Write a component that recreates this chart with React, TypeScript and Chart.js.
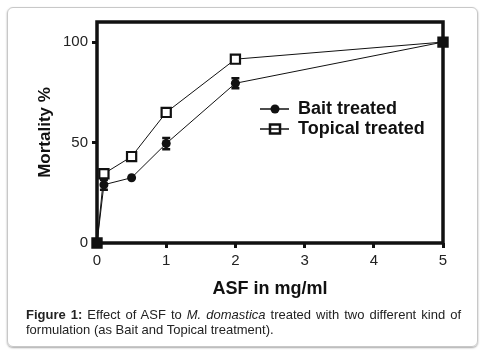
import React, { useEffect, useRef } from "react";
import { Chart, registerables } from "chart.js";

Chart.register(...registerables);

const doses = [0, 0.1, 0.5, 1, 2, 5];
const baitValues = [0, 29, 32.5, 49.5, 79.5, 100];
const baitErrors = [0, 2.5, 0, 2.8, 2.5, 0];
const topicalValues = [0, 34.5, 43, 65, 91.5, 100];
const topicalErrors = [0, 0, 0, 0, 0, 0];
const xTicks = [0, 1, 2, 3, 4, 5];
const yTicks = [0, 50, 100];
const seriesNames = ["Bait treated", "Topical treated"];

const FONT = "'Liberation Sans', Arial, sans-serif";
const INK = "#111";

const framePlugin = {
  id: "frame",
  beforeDatasetsDraw(chart: any) {
    const { ctx, chartArea: a } = chart;
    ctx.save();
    ctx.strokeStyle = INK;
    ctx.lineWidth = 3.5;
    ctx.strokeRect(a.left, a.top, a.right - a.left, a.bottom - a.top);
    ctx.restore();
  },
};

const errorPlugin = {
  id: "errbars",
  afterDatasetsDraw(chart: any) {
    const { ctx, scales } = chart;
    const x = scales.x;
    const y = scales.y;
    const sets = [
      { v: baitValues, e: baitErrors },
      { v: topicalValues, e: topicalErrors },
    ];
    ctx.save();
    ctx.strokeStyle = INK;
    ctx.lineWidth = 2.5;
    sets.forEach((s) => {
      doses.forEach((d, i) => {
        const err = s.e[i];
        if (!err) return;
        const px = x.getPixelForValue(d);
        const y1 = y.getPixelForValue(s.v[i] - err);
        const y2 = y.getPixelForValue(s.v[i] + err);
        ctx.beginPath();
        ctx.moveTo(px, y1);
        ctx.lineTo(px, y2);
        ctx.moveTo(px - 4, y1);
        ctx.lineTo(px + 4, y1);
        ctx.moveTo(px - 4, y2);
        ctx.lineTo(px + 4, y2);
        ctx.stroke();
      });
    });
    ctx.restore();
  },
};

const legendPlugin = {
  id: "customLegend",
  afterDraw(chart: any) {
    const { ctx } = chart;
    const rows = [
      { name: seriesNames[0], y: 109, style: "circle" },
      { name: seriesNames[1], y: 129, style: "rect" },
    ];
    ctx.save();
    rows.forEach((r) => {
      ctx.strokeStyle = INK;
      ctx.lineWidth = 1.5;
      ctx.beginPath();
      ctx.moveTo(260, r.y);
      ctx.lineTo(289, r.y);
      ctx.stroke();
      if (r.style === "circle") {
        ctx.fillStyle = INK;
        ctx.beginPath();
        ctx.arc(275, r.y, 4.5, 0, Math.PI * 2);
        ctx.fill();
      } else {
        ctx.fillStyle = "#fff";
        ctx.lineWidth = 2.5;
        ctx.fillRect(270, r.y - 4.5, 10, 9);
        ctx.strokeRect(270, r.y - 4.5, 10, 9);
        ctx.lineWidth = 1.5;
        ctx.beginPath();
        ctx.moveTo(270, r.y);
        ctx.lineTo(280, r.y);
        ctx.stroke();
      }
      ctx.fillStyle = INK;
      ctx.font = `bold 18px ${FONT}`;
      ctx.textBaseline = "middle";
      ctx.textAlign = "left";
      ctx.fillText(r.name, 298, r.y);
    });
    ctx.restore();
  },
};

export default function App() {
  const ref = useRef<HTMLCanvasElement | null>(null);

  useEffect(() => {
    if (!ref.current) return;
    const topicalFill = topicalValues.map((_, i) =>
      i === 0 || i === topicalValues.length - 1 ? INK : "#fff"
    );
    const chart = new Chart(ref.current, {
      type: "line",
      data: {
        datasets: [
          {
            label: seriesNames[0],
            data: doses.map((d, i) => ({ x: d, y: baitValues[i] })),
            borderColor: INK,
            borderWidth: 1,
            pointStyle: "circle",
            pointRadius: 4.5,
            pointBackgroundColor: INK,
            pointBorderColor: INK,
            pointBorderWidth: 0,
            clip: false as any,
          },
          {
            label: seriesNames[1],
            data: doses.map((d, i) => ({ x: d, y: topicalValues[i] })),
            borderColor: INK,
            borderWidth: 1,
            pointStyle: "rect",
            pointRadius: 6.5,
            pointBackgroundColor: topicalFill,
            pointBorderColor: INK,
            pointBorderWidth: 2.2,
            clip: false as any,
          },
        ],
      },
      options: {
        animation: false,
        responsive: false,
        devicePixelRatio: 1,
        layout: { padding: { top: 22, right: 46, left: 0, bottom: 0 } },
        plugins: {
          legend: { display: false },
          tooltip: { enabled: false },
        },
        scales: {
          x: {
            type: "linear",
            min: 0,
            max: 5,
            afterFit: (s: any) => {
              s.height = 67;
            },
            afterBuildTicks: (s: any) => {
              s.ticks = xTicks.map((v) => ({ value: v }));
            },
            border: { display: false },
            grid: {
              display: true,
              drawOnChartArea: false,
              drawTicks: true,
              tickLength: 5,
              tickWidth: 3,
              tickColor: INK,
            },
            ticks: {
              color: "#222",
              font: { family: FONT, size: 15 },
              padding: 4,
              maxRotation: 0,
            },
            title: {
              display: true,
              text: "ASF in mg/ml",
              color: INK,
              font: { family: FONT, size: 18, weight: "bold" },
              padding: { top: 0, bottom: 10 },
            },
          },
          y: {
            type: "linear",
            min: 0,
            max: 110,
            afterFit: (s: any) => {
              s.width = 97;
            },
            afterBuildTicks: (s: any) => {
              s.ticks = yTicks.map((v) => ({ value: v }));
            },
            border: { display: false },
            grid: {
              display: true,
              drawOnChartArea: false,
              drawTicks: true,
              tickLength: 5,
              tickWidth: 3,
              tickColor: INK,
            },
            ticks: {
              color: "#222",
              font: { family: FONT, size: 15 },
              padding: 4,
            },
            title: {
              display: true,
              text: "Mortality %",
              color: INK,
              font: { family: FONT, size: 17, weight: "bold" },
              padding: { top: 35, bottom: 0 },
            },
          },
        },
      },
      plugins: [framePlugin, errorPlugin, legendPlugin],
    });
    return () => chart.destroy();
  }, []);

  return (
    <div style={{ position: "absolute", left: 0, top: 0, width: 489, height: 364, background: "#fff" }}>
      <div
        style={{
          position: "absolute",
          left: 7,
          top: 7,
          width: 471,
          height: 340,
          boxSizing: "border-box",
          border: "1px solid #c8c8c8",
          borderRadius: 6,
          boxShadow: "0 1px 2px rgba(0,0,0,0.35)",
        }}
      />
      <canvas
        ref={ref}
        width={489}
        height={310}
        style={{ position: "absolute", left: 0, top: 0, width: 489, height: 310 }}
      />
      <div
        style={{
          position: "absolute",
          left: 26,
          top: 307,
          width: 435,
          fontFamily: FONT,
          fontSize: 13,
          lineHeight: "15px",
          color: "#222",
          textAlign: "justify",
        }}
      >
        <b>Figure 1:</b> Effect of ASF to <i>M. domastica</i> treated with two different kind of formulation (as Bait and Topical treatment).
      </div>
    </div>
  );
}
